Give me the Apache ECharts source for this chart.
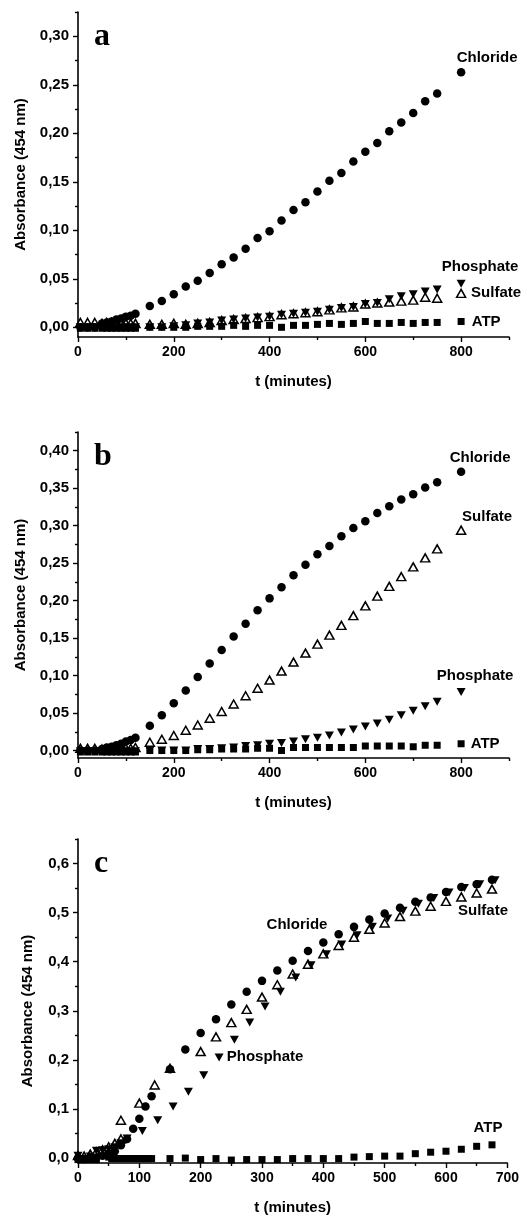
<!DOCTYPE html>
<html><head><meta charset="utf-8">
<script src="https://cdn.jsdelivr.net/npm/echarts@6/dist/echarts.min.js"></script>
<style>html,body{margin:0;padding:0;background:#fff}#c{width:522px;height:1216px}</style>
</head><body><div id="c"></div>
<script>
// ---------- time grids (minutes) ----------
const tEarlyAB = [5,20,35,50,60,70,80,90,100,110,120];
const tMainAB = [150,175,200,225,250,275,300,325,350,375,400,425,450,475,500,525,550,575,600,625,650,675,700,725,750,800];

// ---------- panel a ----------
const chlorideA_early  = [0.000,0.000,0.000,0.004,0.005,0.006,0.008,0.009,0.011,0.012,0.014];
const sulfateA_early   = [0.005,0.005,0.005,0.004,0.005,0.005,0.004,0.004,0.004,0.004,0.004];
const phosphateA_early = [0.000,0.000,0.000,0.000,0.000,0.000,0.000,0.000,0.000,0.000,0.000];
const atpA_early       = [-0.001,-0.001,-0.001,-0.001,-0.001,-0.001,-0.001,-0.001,-0.001,-0.001,-0.001];
const chlorideA  = [0.022,0.027,0.034,0.042,0.048,0.056,0.065,0.072,0.081,0.092,0.099,0.110,0.121,0.129,0.140,0.151,0.159,0.171,0.181,0.190,0.202,0.211,0.221,0.233,0.241,0.263];
const sulfateA   = [0.003,0.003,0.004,0.003,0.004,0.005,0.007,0.008,0.009,0.010,0.011,0.013,0.014,0.015,0.016,0.018,0.020,0.021,0.024,0.025,0.026,0.027,0.028,0.031,0.030,0.035];
const phosphateA = [0.000,0.000,0.001,0.002,0.004,0.005,0.007,0.008,0.009,0.010,0.011,0.013,0.014,0.015,0.016,0.018,0.020,0.021,0.024,0.025,0.029,0.032,0.034,0.037,0.039,0.045];
const atpA       = [0.000,0.000,0.000,0.000,0.001,0.001,0.001,0.002,0.001,0.002,0.002,0.000,0.002,0.002,0.003,0.004,0.003,0.004,0.006,0.004,0.004,0.005,0.004,0.005,0.005,0.006];

// ---------- panel b ----------
const chlorideB_early  = [0.000,0.000,0.000,0.002,0.004,0.005,0.007,0.009,0.012,0.014,0.017];
const sulfateB_early   = [0.003,0.003,0.003,0.002,0.002,0.003,0.003,0.003,0.003,0.003,0.004];
const phosphateB_early = [-0.001,-0.001,-0.001,-0.001,-0.001,-0.001,-0.001,-0.001,-0.001,-0.001,-0.001];
const atpB_early       = [-0.002,-0.002,-0.002,-0.002,-0.002,-0.002,-0.002,-0.002,-0.002,-0.002,-0.002];
const chlorideB  = [0.033,0.047,0.063,0.080,0.098,0.116,0.134,0.152,0.169,0.187,0.203,0.218,0.234,0.248,0.262,0.273,0.286,0.297,0.306,0.317,0.326,0.335,0.342,0.351,0.358,0.372];
const sulfateB   = [0.011,0.015,0.020,0.027,0.034,0.043,0.052,0.062,0.073,0.083,0.094,0.106,0.118,0.130,0.142,0.154,0.167,0.180,0.193,0.206,0.219,0.232,0.245,0.257,0.269,0.294];
const phosphateB = [0.000,0.000,0.000,0.000,0.002,0.002,0.003,0.004,0.006,0.007,0.009,0.010,0.012,0.015,0.017,0.020,0.024,0.028,0.032,0.036,0.041,0.047,0.053,0.059,0.065,0.078];
const atpB       = [0.000,0.000,0.000,0.000,0.001,0.001,0.002,0.002,0.002,0.003,0.003,0.000,0.004,0.004,0.004,0.004,0.004,0.004,0.006,0.006,0.006,0.006,0.005,0.007,0.007,0.009];

// ---------- panel c ----------
const chlorideC_t  = [0,10,20,30,40,50,60,70,80,90,100,110,120,150,175,200,225,250,275,300,325,350,375,400,425,450,475,500,525,550,575,600,625,650,675];
const chlorideC    = [0.000,-0.002,0.000,0.001,0.005,0.008,0.014,0.026,0.039,0.060,0.080,0.105,0.126,0.181,0.221,0.255,0.283,0.313,0.339,0.361,0.382,0.402,0.422,0.439,0.456,0.471,0.486,0.498,0.510,0.522,0.531,0.542,0.552,0.558,0.567];
const sulfateC_t   = [0,10,20,30,40,50,60,70,70,100,125,150,200,225,250,275,300,325,350,375,400,425,450,475,500,525,550,575,600,625,650,675];
const sulfateC     = [0.005,0.004,0.008,0.013,0.017,0.023,0.030,0.039,0.077,0.112,0.149,0.183,0.217,0.247,0.276,0.303,0.328,0.353,0.375,0.395,0.416,0.433,0.450,0.466,0.479,0.492,0.503,0.513,0.523,0.532,0.540,0.548];
const phosphateC_t = [0,10,20,30,40,50,60,70,80,105,130,155,180,205,230,255,280,305,330,355,380,405,430,455,480,505,530,555,580,605,630,655,680];
const phosphateC   = [0.005,-0.002,0.003,0.015,0.016,0.018,0.022,0.030,0.040,0.055,0.077,0.105,0.135,0.169,0.205,0.241,0.276,0.309,0.339,0.368,0.393,0.415,0.435,0.454,0.471,0.488,0.504,0.518,0.530,0.541,0.550,0.558,0.566];
const atpC_t = [0,10,20,30,50,55,60,65,70,75,80,85,90,95,100,105,110,115,120,150,175,200,225,250,275,300,325,350,375,400,425,450,475,500,525,550,575,600,625,650,675];
const atpC   = [-0.003,-0.003,-0.003,-0.003,0.002,-0.001,-0.001,-0.001,-0.001,-0.001,-0.001,-0.001,-0.001,-0.001,-0.001,-0.001,-0.001,-0.001,-0.001,-0.001,0.000,-0.003,-0.001,-0.004,-0.003,-0.003,-0.003,-0.001,-0.001,-0.001,-0.001,0.002,0.003,0.004,0.004,0.009,0.012,0.014,0.018,0.024,0.027];

// ---------- tick labels ----------
const xTicksAB = [0,200,400,600,800];
const xMinorAB = [100,300,500,700,900];
const xTicksC  = [0,100,200,300,400,500,600,700];
const xMinorC  = [50,150,250,350,450,550,650];
const yTicksA  = [0,0.05,0.10,0.15,0.20,0.25,0.30];
const yMinorA  = [0.025,0.075,0.125,0.175,0.225,0.275,0.325];
const yTicksB  = [0,0.05,0.10,0.15,0.20,0.25,0.30,0.35,0.40];
const yMinorB  = [0.025,0.075,0.125,0.175,0.225,0.275,0.325,0.375,0.425];
const yTicksC  = [0,0.1,0.2,0.3,0.4,0.5,0.6];
const yMinorC  = [0.05,0.15,0.25,0.35,0.45,0.55,0.65];

const FONT = '"Liberation Sans", Arial, sans-serif';

function pts(ts, vs){ return ts.map((t,i)=>[t, vs[i]]); }
function labelAt(data, t, text, offset){
  let idx = -1;
  for (let i = data.length - 1; i >= 0; i--) { if (data[i][0] === t) { idx = i; break; } }
  data[idx] = { value: data[idx], label: { show: true, formatter: text, position: 'inside', offset: offset,
    color: '#000', fontSize: 15, fontWeight: 'bold', fontFamily: FONT, align: 'center', verticalAlign: 'middle' } };
}

const panels = [
  { top: 12, height: 325, xmax: 900, ymax: 0.325, xt: xTicksAB, xm: xMinorAB, yt: yTicksA, ym: yMinorA, dec: 2, nameGapY: 50, namePad: [0,0,0,0],
    chl: pts(tEarlyAB, chlorideA_early).concat(pts(tMainAB, chlorideA)),
    sul: pts(tEarlyAB, sulfateA_early).concat(pts(tMainAB, sulfateA)),
    pho: pts(tEarlyAB, phosphateA_early).concat(pts(tMainAB, phosphateA)),
    atp: pts(tEarlyAB, atpA_early).concat(pts(tMainAB, atpA)),
    labels: [['chl',800,'Chloride',[26,-14]],['pho',800,'Phosphate',[19,-17]],['sul',800,'Sulfate',[35,0]],['atp',800,'ATP',[25,0]]],
    letter: 'a' },
  { top: 432, height: 326, xmax: 900, ymax: 0.425, xt: xTicksAB, xm: xMinorAB, yt: yTicksB, ym: yMinorB, dec: 2, nameGapY: 50, namePad: [0,0,0,0],
    chl: pts(tEarlyAB, chlorideB_early).concat(pts(tMainAB, chlorideB)),
    sul: pts(tEarlyAB, sulfateB_early).concat(pts(tMainAB, sulfateB)),
    pho: pts(tEarlyAB, phosphateB_early).concat(pts(tMainAB, phosphateB)),
    atp: pts(tEarlyAB, atpB_early).concat(pts(tMainAB, atpB)),
    labels: [['chl',800,'Chloride',[19,-14]],['sul',800,'Sulfate',[26,-13]],['pho',800,'Phosphate',[14,-16]],['atp',800,'ATP',[24,0]]],
    letter: 'b' },
  { top: 839, height: 325, xmax: 700, ymax: 0.65, xt: xTicksC, xm: xMinorC, yt: yTicksC, ym: yMinorC, dec: 1, nameGapY: 43, namePad: [0,20,0,0],
    chl: pts(chlorideC_t, chlorideC),
    sul: pts(sulfateC_t, sulfateC),
    pho: pts(phosphateC_t, phosphateC),
    atp: pts(atpC_t, atpC),
    labels: [['chl',375,'Chloride',[-11,-26]],['sul',675,'Sulfate',[-9,22]],['pho',230,'Phosphate',[46,-1]],['atp',675,'ATP',[-4,-17]]],
    letter: 'c' }
];

const grid = [], xAxis = [], yAxis = [], series = [], graphic = [];
const tickLine = { color: '#000', width: 1.4 };
const axisLine = { show: true, onZero: false, lineStyle: { color: '#000', width: 1.6 } };
const xLabelStyle = { color: '#000', fontSize: 14, fontWeight: 'bold', fontFamily: FONT };
const yLabelStyle = { color: '#000', fontSize: 15, fontWeight: 'bold', fontFamily: FONT };
const nameStyle = { color: '#000', fontSize: 15, fontWeight: 'bold', fontFamily: FONT };

panels.forEach((p, k) => {
  grid.push({ left: 78, right: 13, top: p.top, height: p.height, containLabel: false });
  xAxis.push({ gridIndex: k, type: 'value', min: 0, max: p.xmax, position: 'bottom', axisLine: axisLine,
    axisTick: { show: true, inside: false, length: 5, customValues: p.xt, lineStyle: tickLine },
    axisLabel: Object.assign({ margin: 8, customValues: p.xt, formatter: v => String(v) }, xLabelStyle),
    splitLine: { show: false }, name: 't (minutes)', nameLocation: 'middle', nameGap: 37, nameTextStyle: nameStyle });
  xAxis.push({ gridIndex: k, type: 'value', min: 0, max: p.xmax, position: 'bottom', axisLine: { show: false, onZero: false },
    axisTick: { show: true, inside: false, length: 3, customValues: p.xm, lineStyle: tickLine },
    axisLabel: { show: false }, splitLine: { show: false } });
  yAxis.push({ gridIndex: k, type: 'value', min: -0.01, max: p.ymax, position: 'left', axisLine: axisLine,
    axisTick: { show: true, inside: false, length: 5, customValues: p.yt, lineStyle: tickLine },
    axisLabel: Object.assign({ margin: 9, customValues: p.yt, formatter: v => v.toFixed(p.dec).replace('.', ',') }, yLabelStyle),
    splitLine: { show: false }, name: 'Absorbance (454 nm)', nameLocation: 'middle', nameRotate: 90, nameGap: p.nameGapY,
    nameTextStyle: Object.assign({ padding: p.namePad }, nameStyle) });
  yAxis.push({ gridIndex: k, type: 'value', min: -0.01, max: p.ymax, position: 'left', axisLine: { show: false, onZero: false },
    axisTick: { show: true, inside: false, length: 3, customValues: p.ym, lineStyle: tickLine },
    axisLabel: { show: false }, splitLine: { show: false } });

  const sets = { chl: p.chl.slice(), sul: p.sul.slice(), pho: p.pho.slice(), atp: p.atp.slice() };
  p.labels.forEach(l => labelAt(sets[l[0]], l[1], l[2], l[3]));
  const common = { type: 'scatter', xAxisIndex: 2 * k, yAxisIndex: 2 * k, silent: true };
  series.push(Object.assign({ name: 'Chloride', data: sets.chl, symbol: 'circle', symbolSize: 8.5,
    itemStyle: { color: '#000', opacity: 1 } }, common));
  series.push(Object.assign({ name: 'Sulfate', data: sets.sul, symbol: 'triangle', symbolSize: [9, 8],
    itemStyle: { color: 'rgba(0,0,0,0)', borderColor: '#000', borderWidth: 1.5, opacity: 1 } }, common));
  series.push(Object.assign({ name: 'Phosphate', data: sets.pho, symbol: 'triangle', symbolRotate: 180, symbolSize: [9, 8],
    itemStyle: { color: '#000', opacity: 1 } }, common));
  series.push(Object.assign({ name: 'ATP', data: sets.atp, symbol: 'rect', symbolSize: 7,
    itemStyle: { color: '#000', opacity: 1 } }, common));

  graphic.push({ type: 'text', left: 94, top: p.top + 9, style: { text: p.letter, fill: '#000',
    font: 'bold 32px "Liberation Serif", "Times New Roman", serif' } });
});

const chart = echarts.init(document.getElementById('c'), null, { renderer: 'canvas' });
chart.setOption({ animation: false, backgroundColor: '#fff', grid, xAxis, yAxis, series, graphic });
</script></body></html>
